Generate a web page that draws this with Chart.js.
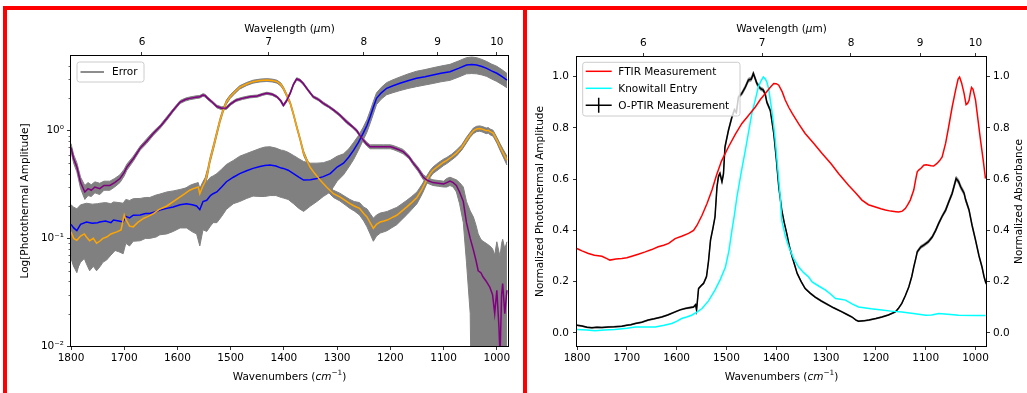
<!DOCTYPE html>
<html>
<head>
<meta charset="utf-8">
<script src="https://cdn.jsdelivr.net/npm/chart.js@4.4.0/dist/chart.umd.min.js"></script>
<style>
html, body { margin: 0; padding: 0; background: #fff; }
body { width: 1027px; height: 393px; position: relative; overflow: hidden; }
canvas { position: absolute; top: 0; }
#leftChart { left: 0; }
#rightChart { left: 523px; }
.redline { position: absolute; background: #ff0000; }
</style>
</head>
<body>
<canvas id="leftChart" width="523" height="393"></canvas>
<canvas id="rightChart" width="504" height="393"></canvas>
<div class="redline" style="left:3px;top:6px;width:1024px;height:4px"></div>
<div class="redline" style="left:3px;top:6px;width:4px;height:387px"></div>
<div class="redline" style="left:523px;top:6px;width:4px;height:387px"></div>
<script>
// ============================================================
// DATA
// ============================================================

// axes
const wavenumberTicks = [1800, 1700, 1600, 1500, 1400, 1300, 1200, 1100, 1000];
const wavelengthTicks = [6, 7, 8, 9, 10];
const logTicks = [0.01, 0.1, 1];
const logTickLabels = ['10\u207B\u00B2', '10\u207B\u00B9', '10\u2070'];
const normTicks = [0, 0.2, 0.4, 0.6, 0.8, 1.0];

// left panel : purple
const purpleWn = [
  1800, 1795, 1789, 1782, 1774, 1768, 1762, 1755, 1746, 1738,
  1727, 1718, 1708, 1700, 1695, 1683, 1670, 1658, 1645, 1632,
  1620, 1608, 1595, 1585, 1577, 1565, 1558, 1552, 1548, 1543,
  1535, 1526, 1517, 1508, 1500, 1490, 1478, 1464, 1450, 1440,
  1432, 1422, 1413, 1406, 1401, 1395, 1388, 1382, 1376, 1370,
  1364, 1355, 1345, 1335, 1326, 1316, 1307, 1295, 1282, 1272,
  1263, 1257, 1251, 1244, 1238, 1225, 1213, 1200, 1195, 1185,
  1176, 1165, 1157, 1148, 1138, 1130, 1120, 1110, 1100, 1094,
  1088, 1082, 1076, 1070, 1063, 1057, 1050, 1044, 1039, 1035,
  1030, 1026, 1020, 1013, 1008, 1004, 1000, 996, 994, 991,
  989, 985, 981
];
const purpleAmp = [
  0.70, 0.55, 0.46, 0.33, 0.27, 0.29, 0.28, 0.30, 0.29, 0.31,
  0.31, 0.33, 0.36, 0.41, 0.46, 0.55, 0.69, 0.80, 0.95, 1.10,
  1.30, 1.55, 1.85, 1.95, 2.00, 2.05, 2.07, 2.15, 2.12, 2.00,
  1.85, 1.68, 1.62, 1.63, 1.78, 1.92, 2.00, 2.07, 2.10, 2.18,
  2.23, 2.18, 2.07, 1.90, 1.72, 1.90, 2.25, 2.70, 3.03, 2.95,
  2.76, 2.40, 2.07, 1.95, 1.80, 1.68, 1.56, 1.40, 1.21, 1.10,
  1.00, 0.90, 0.82, 0.75, 0.71, 0.71, 0.71, 0.71, 0.70, 0.67,
  0.64, 0.57, 0.50, 0.44, 0.37, 0.345, 0.33, 0.325, 0.32, 0.33,
  0.34, 0.33, 0.31, 0.27, 0.22, 0.14, 0.10, 0.078, 0.062, 0.05,
  0.048, 0.044, 0.04, 0.035, 0.03, 0.02, 0.033, 0.015, 0.008, 0.03,
  0.038, 0.02, 0.033
];
const purpleErr = [
  0.06, 0.05, 0.045, 0.04, 0.04, 0.04, 0.035, 0.035, 0.035, 0.03,
  0.03, 0.03, 0.03, 0.03, 0.03, 0.03, 0.03, 0.04, 0.04, 0.04,
  0.05, 0.05, 0.06, 0.06, 0.06, 0.06, 0.06, 0.06, 0.06, 0.06,
  0.05, 0.05, 0.05, 0.05, 0.05, 0.05, 0.05, 0.05, 0.05, 0.05,
  0.05, 0.05, 0.05, 0.05, 0.05, 0.05, 0.06, 0.07, 0.08, 0.08,
  0.07, 0.06, 0.05, 0.05, 0.05, 0.04, 0.04, 0.04, 0.04, 0.03,
  0.03, 0.03, 0.03, 0.03, 0.03, 0.03, 0.03, 0.03, 0.03, 0.03,
  0.03, 0.02, 0.02, 0.02, 0.02, 0.02, 0.02, 0.02, 0.02, 0.03,
  0.03, 0.03, 0.04, 0.06, 0.08, 0.08, 0.08, 0.08, 0.07, 0.06,
  0.05, 0.05, 0.05, 0.05, 0.05, 0.05, 0.06, 0.06, 0.06, 0.06,
  0.06, 0.06, 0.06
];

// left panel : orange
const orangeWn = [
  1800, 1795, 1789, 1782, 1775, 1771, 1765, 1758, 1752, 1745,
  1740, 1733, 1725, 1714, 1706, 1700, 1697, 1690, 1683, 1675,
  1664, 1655, 1645, 1635, 1620, 1608, 1595, 1586, 1577, 1570,
  1561, 1558, 1553, 1548, 1543, 1539, 1532, 1526, 1520, 1514,
  1508, 1501, 1492, 1483, 1470, 1458, 1445, 1432, 1422, 1413,
  1406, 1401, 1395, 1388, 1382, 1376, 1370, 1363, 1357, 1351,
  1342, 1332, 1320, 1307, 1295, 1285, 1276, 1268, 1258, 1250,
  1244, 1238, 1232, 1226, 1219, 1212, 1206, 1198, 1188, 1178,
  1169, 1160, 1150, 1140, 1132, 1125, 1120, 1110, 1100, 1094,
  1085, 1076, 1066, 1057, 1050, 1044, 1038, 1032, 1026, 1020,
  1016, 1013, 1007, 1000, 994, 988, 981
];
const orangeAmp = [
  0.115, 0.10, 0.096, 0.105, 0.11, 0.103, 0.095, 0.10, 0.09, 0.095,
  0.10, 0.103, 0.11, 0.115, 0.12, 0.165, 0.15, 0.13, 0.128, 0.14,
  0.153, 0.16, 0.17, 0.185, 0.20, 0.22, 0.243, 0.26, 0.28, 0.29,
  0.30, 0.26, 0.30, 0.336, 0.42, 0.53, 0.72, 0.95, 1.25, 1.56,
  1.85, 2.07, 2.30, 2.53, 2.72, 2.86, 2.93, 2.96, 2.93, 2.86,
  2.70, 2.48, 2.15, 1.80, 1.42, 1.09, 0.85, 0.62, 0.53, 0.46,
  0.40, 0.348, 0.30, 0.26, 0.243, 0.225, 0.21, 0.20, 0.19, 0.17,
  0.158, 0.14, 0.124, 0.135, 0.142, 0.145, 0.148, 0.155, 0.164, 0.18,
  0.196, 0.215, 0.24, 0.29, 0.348, 0.40, 0.43, 0.47, 0.51, 0.53,
  0.57, 0.62, 0.70, 0.82, 0.92, 1.00, 1.04, 1.05, 1.03, 1.00,
  1.01, 0.98, 0.95, 0.82, 0.71, 0.62, 0.53
];
const orangeErr = [
  0.045, 0.045, 0.045, 0.045, 0.045, 0.045, 0.045, 0.045, 0.04, 0.04,
  0.04, 0.04, 0.04, 0.035, 0.035, 0.035, 0.03, 0.03, 0.03, 0.03,
  0.03, 0.03, 0.03, 0.03, 0.03, 0.03, 0.03, 0.03, 0.03, 0.03,
  0.03, 0.03, 0.03, 0.03, 0.03, 0.03, 0.04, 0.05, 0.06, 0.07,
  0.08, 0.08, 0.08, 0.09, 0.09, 0.09, 0.09, 0.09, 0.09, 0.09,
  0.09, 0.08, 0.07, 0.06, 0.05, 0.04, 0.03, 0.03, 0.02, 0.02,
  0.02, 0.02, 0.02, 0.02, 0.02, 0.02, 0.02, 0.02, 0.025, 0.025,
  0.03, 0.03, 0.03, 0.03, 0.03, 0.03, 0.03, 0.03, 0.03, 0.03,
  0.03, 0.03, 0.03, 0.03, 0.03, 0.03, 0.03, 0.035, 0.035, 0.035,
  0.035, 0.04, 0.04, 0.05, 0.05, 0.06, 0.06, 0.06, 0.06, 0.06,
  0.06, 0.06, 0.06, 0.05, 0.05, 0.05, 0.05
];

// left panel : blue
const blueWn = [
  1800, 1795, 1789, 1782, 1771, 1760, 1750, 1746, 1735, 1725,
  1720, 1710, 1702, 1697, 1690, 1683, 1670, 1660, 1652, 1640,
  1633, 1620, 1608, 1595, 1583, 1572, 1564, 1558, 1552, 1545,
  1538, 1533, 1526, 1517, 1508, 1495, 1483, 1470, 1458, 1445,
  1436, 1426, 1415, 1405, 1401, 1392, 1382, 1372, 1363, 1350,
  1338, 1326, 1313, 1300, 1288, 1278, 1269, 1260, 1251, 1244,
  1238, 1232, 1226, 1217, 1207, 1195, 1182, 1167, 1151, 1135,
  1120, 1105, 1088, 1072, 1057, 1047, 1038, 1028, 1019, 1010,
  1000, 990, 981
];
const blueAmp = [
  0.135, 0.125, 0.118, 0.135, 0.142, 0.138, 0.14, 0.142, 0.145, 0.14,
  0.148, 0.145, 0.142, 0.16, 0.155, 0.164, 0.165, 0.17, 0.17, 0.178,
  0.183, 0.19, 0.196, 0.205, 0.21, 0.205, 0.20, 0.185, 0.22, 0.226,
  0.25, 0.26, 0.27, 0.30, 0.336, 0.37, 0.40, 0.425, 0.447, 0.465,
  0.475, 0.48, 0.47, 0.45, 0.447, 0.43, 0.40, 0.37, 0.348, 0.35,
  0.36, 0.375, 0.40, 0.46, 0.50, 0.57, 0.66, 0.78, 0.95, 1.12,
  1.35, 1.65, 2.00, 2.25, 2.48, 2.62, 2.76, 2.92, 3.07, 3.18,
  3.30, 3.42, 3.54, 3.80, 4.08, 4.12, 4.08, 3.95, 3.80, 3.60,
  3.42, 3.18, 2.96
];
const blueErr = [
  0.07, 0.07, 0.07, 0.07, 0.07, 0.07, 0.07, 0.07, 0.07, 0.07,
  0.07, 0.07, 0.07, 0.07, 0.07, 0.07, 0.07, 0.07, 0.07, 0.075,
  0.075, 0.08, 0.08, 0.08, 0.085, 0.09, 0.09, 0.10, 0.10, 0.11,
  0.12, 0.12, 0.13, 0.14, 0.15, 0.16, 0.18, 0.19, 0.20, 0.22,
  0.23, 0.23, 0.22, 0.21, 0.21, 0.20, 0.19, 0.18, 0.17, 0.15,
  0.14, 0.13, 0.13, 0.12, 0.11, 0.11, 0.12, 0.12, 0.13, 0.15,
  0.18, 0.22, 0.25, 0.28, 0.32, 0.36, 0.40, 0.45, 0.50, 0.52,
  0.55, 0.57, 0.60, 0.65, 0.70, 0.72, 0.70, 0.65, 0.60, 0.57,
  0.55, 0.50, 0.45
];

// right panel : FTIR
const ftirWn = [
  1800, 1790, 1777, 1765, 1750, 1740, 1734, 1722, 1710, 1700,
  1690, 1677, 1663, 1650, 1637, 1626, 1616, 1603, 1590, 1576,
  1566, 1559, 1549, 1539, 1529, 1520, 1510, 1496, 1482, 1469,
  1455, 1442, 1432, 1422, 1412, 1405, 1400, 1395, 1388, 1382,
  1375, 1368, 1355, 1342, 1325, 1308, 1290, 1275, 1255, 1240,
  1228, 1215, 1201, 1190, 1181, 1170, 1160, 1154, 1147, 1141,
  1136, 1131, 1124, 1120, 1117, 1114, 1109, 1104, 1099, 1094,
  1089, 1084, 1078, 1072, 1067, 1060, 1054, 1047, 1040, 1035,
  1032, 1028, 1023, 1019, 1016, 1013, 1010, 1008, 1005, 1000,
  995, 990, 985, 980
];
const ftirAbs = [
  0.329, 0.32, 0.31, 0.303, 0.299, 0.29, 0.284, 0.288, 0.29, 0.293,
  0.299, 0.307, 0.316, 0.325, 0.336, 0.342, 0.349, 0.368, 0.377, 0.388,
  0.40, 0.42, 0.459, 0.505, 0.557, 0.615, 0.67, 0.725, 0.775, 0.817,
  0.85, 0.881, 0.91, 0.934, 0.958, 0.973, 0.972, 0.966, 0.94, 0.908,
  0.88, 0.856, 0.815, 0.778, 0.74, 0.70, 0.66, 0.622, 0.576, 0.545,
  0.518, 0.50, 0.491, 0.484, 0.479, 0.475, 0.473, 0.472, 0.475, 0.485,
  0.50, 0.518, 0.557, 0.60, 0.628, 0.635, 0.643, 0.654, 0.656, 0.654,
  0.652, 0.651, 0.66, 0.672, 0.686, 0.74, 0.803, 0.88, 0.947, 0.99,
  0.998, 0.975, 0.934, 0.89, 0.895, 0.907, 0.94, 0.957, 0.95, 0.908,
  0.83, 0.752, 0.68, 0.602
];

// right panel : Knowitall
const knowitallWn = [
  1800, 1780, 1764, 1745, 1724, 1700, 1683, 1660, 1643, 1625,
  1610, 1600, 1590, 1580, 1570, 1560, 1549, 1536, 1523, 1512,
  1502, 1495, 1489, 1484, 1479, 1470, 1462, 1455, 1449, 1442,
  1436, 1430, 1426, 1422, 1419, 1415, 1412, 1407, 1402, 1397,
  1392, 1389, 1382, 1375, 1365, 1355, 1345, 1335, 1328, 1315,
  1301, 1290, 1281, 1271, 1261, 1248, 1235, 1210, 1188, 1170,
  1148, 1125, 1100, 1088, 1074, 1050, 1034, 1000, 980
];
const knowitallAbs = [
  0.013, 0.011, 0.008, 0.011, 0.013, 0.018, 0.023, 0.023, 0.023, 0.03,
  0.037, 0.045, 0.056, 0.062, 0.069, 0.08, 0.095, 0.125, 0.167, 0.21,
  0.257, 0.32, 0.40, 0.46, 0.53, 0.63, 0.713, 0.79, 0.856, 0.91,
  0.959, 0.985, 0.998, 0.99, 0.979, 0.95, 0.908, 0.84, 0.752, 0.64,
  0.53, 0.44, 0.38, 0.336, 0.29, 0.257, 0.235, 0.218, 0.199, 0.183,
  0.167, 0.15, 0.134, 0.131, 0.128, 0.113, 0.101, 0.094, 0.089, 0.085,
  0.082, 0.076, 0.069, 0.07, 0.076, 0.072, 0.069, 0.068, 0.068
];

// right panel : O-PTIR
const optirWn = [
  1800, 1790, 1780, 1770, 1760, 1750, 1737, 1725, 1710, 1700,
  1692, 1683, 1670, 1657, 1645, 1630, 1618, 1603, 1593, 1583,
  1575, 1566, 1562, 1560, 1556, 1550, 1546, 1540, 1536, 1532,
  1527, 1523, 1519, 1516, 1513, 1509, 1506, 1503, 1496, 1489,
  1484, 1480, 1476, 1469, 1462, 1456, 1450, 1446, 1442, 1439,
  1432, 1426, 1422, 1419, 1412, 1405, 1400, 1395, 1389, 1384,
  1379, 1374, 1368, 1358, 1350, 1342, 1332, 1322, 1310, 1301,
  1285, 1268, 1258, 1248, 1240, 1235, 1225, 1214, 1200, 1188,
  1175, 1161, 1155, 1148, 1141, 1134, 1128, 1124, 1120, 1117,
  1110, 1104, 1095, 1087, 1080, 1074, 1067, 1060, 1054, 1047,
  1042, 1039, 1034, 1030, 1023, 1020, 1013, 1007, 1000, 993,
  987, 983, 979
];
const optirAmp = [
  0.030, 0.027, 0.022, 0.020, 0.022, 0.021, 0.023, 0.024, 0.026, 0.030,
  0.032, 0.037, 0.042, 0.050, 0.055, 0.062, 0.070, 0.082, 0.090, 0.095,
  0.098, 0.101, 0.110, 0.089, 0.173, 0.186, 0.193, 0.220, 0.280, 0.362,
  0.410, 0.452, 0.570, 0.610, 0.622, 0.590, 0.620, 0.725, 0.790, 0.842,
  0.870, 0.860, 0.920, 0.934, 0.959, 0.986, 0.990, 1.012, 0.990, 0.973,
  0.953, 0.947, 0.930, 0.900, 0.868, 0.778, 0.680, 0.570, 0.479, 0.430,
  0.388, 0.340, 0.296, 0.232, 0.200, 0.173, 0.155, 0.140, 0.125, 0.115,
  0.098, 0.082, 0.072, 0.062, 0.050, 0.046, 0.047, 0.050, 0.056, 0.062,
  0.070, 0.082, 0.095, 0.115, 0.145, 0.179, 0.220, 0.257, 0.290, 0.316,
  0.335, 0.342, 0.355, 0.374, 0.400, 0.427, 0.455, 0.479, 0.510, 0.544,
  0.580, 0.602, 0.590, 0.570, 0.545, 0.520, 0.479, 0.420, 0.362, 0.300,
  0.257, 0.220, 0.193
];
const optirErr = [
  0.002, 0.002, 0.002, 0.002, 0.002, 0.002, 0.002, 0.002, 0.002, 0.002,
  0.002, 0.002, 0.002, 0.002, 0.002, 0.002, 0.002, 0.002, 0.002, 0.002,
  0.003, 0.003, 0.003, 0.003, 0.004, 0.004, 0.004, 0.005, 0.005, 0.006,
  0.006, 0.006, 0.007, 0.007, 0.007, 0.007, 0.007, 0.007, 0.007, 0.007,
  0.007, 0.007, 0.007, 0.007, 0.008, 0.008, 0.008, 0.008, 0.008, 0.008,
  0.007, 0.007, 0.007, 0.007, 0.006, 0.005, 0.005, 0.004, 0.004, 0.003,
  0.003, 0.003, 0.003, 0.003, 0.003, 0.003, 0.003, 0.003, 0.003, 0.003,
  0.002, 0.002, 0.002, 0.002, 0.002, 0.002, 0.002, 0.002, 0.002, 0.002,
  0.002, 0.002, 0.003, 0.003, 0.003, 0.003, 0.004, 0.004, 0.005, 0.006,
  0.006, 0.006, 0.006, 0.006, 0.006, 0.006, 0.006, 0.007, 0.007, 0.008,
  0.009, 0.009, 0.009, 0.009, 0.008, 0.008, 0.007, 0.006, 0.006, 0.005,
  0.005, 0.005, 0.005
];

// ============================================================
// STYLE
// ============================================================

const FONT = '"DejaVu Sans", sans-serif';
const FS = 10.5;
const GRAY = '#808080';
const X_MIN = 979;
const X_MAX = 1800;

Chart.defaults.font.family = FONT;
Chart.defaults.font.size = FS;
Chart.defaults.color = '#000';

const pts = (xs, ys) => xs.map((x, i) => ({ x, y: ys[i] }));
const band = (xs, ys, es, sign, floor) =>
    xs.map((x, i) => ({ x, y: Math.max(ys[i] + sign * es[i], floor) }));

// texte avec italique / exposant (mathtext)
function drawRich(ctx, segs, cx, cy, angle) {
    ctx.save();
    ctx.translate(cx, cy);
    ctx.rotate(angle || 0);
    let total = 0;
    const parts = segs.map(s => {
        const size = s.sup ? FS * 0.7 : FS;
        const font = `${s.italic ? 'italic ' : ''}${size}px ${FONT}`;
        ctx.font = font;
        const w = ctx.measureText(s.text).width;
        total += w;
        return { s, font, w };
    });
    let x = -total / 2;
    ctx.textBaseline = 'middle';
    ctx.textAlign = 'left';
    ctx.fillStyle = '#000';
    parts.forEach(p => {
        ctx.font = p.font;
        ctx.fillText(p.s.text, x, p.s.sup ? -FS * 0.38 : 0);
        x += p.w;
    });
    ctx.restore();
}

const xTitle = [{ text: 'Wavenumbers (' }, { text: 'cm', italic: true }, { text: '\u22121', sup: true }, { text: ')' }];
const topTitle = [{ text: 'Wavelength (' }, { text: '\u03BC', italic: true }, { text: 'm)' }];

function roundBox(ctx, x, y, w, h, r) {
    ctx.beginPath();
    ctx.moveTo(x + r, y);
    ctx.arcTo(x + w, y, x + w, y + h, r);
    ctx.arcTo(x + w, y + h, x, y + h, r);
    ctx.arcTo(x, y + h, x, y, r);
    ctx.arcTo(x, y, x + w, y, r);
    ctx.closePath();
    ctx.fillStyle = 'rgba(255,255,255,0.8)';
    ctx.fill();
    ctx.strokeStyle = '#cccccc';
    ctx.lineWidth = 1;
    ctx.stroke();
}

function frame(ctx, a) {
    ctx.strokeStyle = '#000';
    ctx.lineWidth = 1;
    ctx.strokeRect(Math.round(a.left) - 0.5, Math.round(a.top) - 0.5,
        Math.round(a.right - a.left) + 1, Math.round(a.bottom - a.top) + 1);
}

const tickGrid = { drawOnChartArea: false, tickLength: 4, tickColor: '#000', tickWidth: 0.8 };

function xAxis(position, height, tickVals, labelFn, pad) {
    return {
        type: 'linear', position, min: X_MIN, max: X_MAX, reverse: true,
        afterBuildTicks: s => { s.ticks = tickVals.map(v => ({ value: v })); },
        afterFit: s => { s.height = height; },
        grid: tickGrid,
        border: { display: false },
        ticks: { autoSkip: false, maxRotation: 0, padding: pad, callback: labelFn }
    };
}

// ============================================================
// GRAPHIQUE GAUCHE (log)
// ============================================================

const leftDecor = {
    id: 'leftDecor',
    afterDraw(chart) {
        const ctx = chart.ctx, a = chart.chartArea, ys = chart.scales.y;
        ctx.save();
        // petites graduations
        ctx.strokeStyle = '#000';
        ctx.lineWidth = 0.6;
        logTicks.forEach(d => {
            for (let k = 2; k < 10; k++) {
                const v = k * d;
                if (v > ys.max) break;
                const py = Math.round(ys.getPixelForValue(v)) + 0.5;
                ctx.beginPath();
                ctx.moveTo(a.left - 2.5, py);
                ctx.lineTo(a.left, py);
                ctx.stroke();
            }
        });
        frame(ctx, a);

        const cx = (a.left + a.right) / 2;
        drawRich(ctx, xTitle, cx, 377);
        drawRich(ctx, topTitle, cx, 29);
        drawRich(ctx, [{ text: 'Log[Photothermal Amplitude]' }], 25, (a.top + a.bottom) / 2, -Math.PI / 2);

        // légende
        roundBox(ctx, 77, 62, 67, 20, 2.5);
        ctx.strokeStyle = GRAY;
        ctx.lineWidth = 1.8;
        ctx.beginPath();
        ctx.moveTo(80.5, 72);
        ctx.lineTo(104, 72);
        ctx.stroke();
        ctx.fillStyle = '#000';
        ctx.font = `${FS}px ${FONT}`;
        ctx.textBaseline = 'middle';
        ctx.fillText('Error', 112, 72.5);
        ctx.restore();
    }
};

const bandStyle = { borderColor: GRAY, borderWidth: 1, backgroundColor: GRAY, pointRadius: 0, order: 10, clip: 0 };
const lineStyle = { pointRadius: 0, borderWidth: 1.5, fill: false, clip: 0 };

new Chart(document.getElementById('leftChart'), {
    type: 'line',
    data: {
        datasets: [
            { ...bandStyle, data: band(purpleWn, purpleAmp, purpleErr, 1, 1e-4), fill: '+1' },
            { ...bandStyle, data: band(purpleWn, purpleAmp, purpleErr, -1, 1e-4), fill: false },
            { ...bandStyle, data: band(orangeWn, orangeAmp, orangeErr, 1, 1e-4), fill: '+1' },
            { ...bandStyle, data: band(orangeWn, orangeAmp, orangeErr, -1, 1e-4), fill: false },
            { ...bandStyle, data: band(blueWn, blueAmp, blueErr, 1, 1e-4), fill: '+1' },
            { ...bandStyle, data: band(blueWn, blueAmp, blueErr, -1, 1e-4), fill: false },
            { ...lineStyle, data: pts(blueWn, blueAmp), borderColor: '#0000ff', order: 3 },
            { ...lineStyle, data: pts(orangeWn, orangeAmp), borderColor: '#ffa500', order: 2 },
            { ...lineStyle, data: pts(purpleWn, purpleAmp), borderColor: '#800080', order: 1 }
        ]
    },
    options: {
        responsive: false,
        animation: false,
        devicePixelRatio: 1,
        events: [],
        layout: { padding: { left: 0, right: 15, top: 0, bottom: 0 } },
        plugins: { legend: { display: false }, tooltip: { enabled: false } },
        scales: {
            x: xAxis('bottom', 47, wavenumberTicks, v => String(v), 2),
            xTop: xAxis('top', 56, wavelengthTicks.map(l => 10000 / l), (v, i) => String(wavelengthTicks[i]), 3),
            y: {
                type: 'logarithmic', position: 'left', min: 0.01, max: 4.95,
                afterBuildTicks: s => { s.ticks = logTicks.map(v => ({ value: v })); },
                afterFit: s => { s.width = 71; },
                grid: tickGrid,
                border: { display: false },
                ticks: { autoSkip: false, padding: 3, callback: (v, i) => logTickLabels[i] }
            }
        }
    },
    plugins: [leftDecor]
});

// ============================================================
// GRAPHIQUE DROIT (normalisé)
// ============================================================

const rightDecor = {
    id: 'rightDecor',
    afterDraw(chart) {
        const ctx = chart.ctx, a = chart.chartArea;
        ctx.save();
        frame(ctx, a);

        const cx = (a.left + a.right) / 2;
        const cy = (a.top + a.bottom) / 2;
        drawRich(ctx, xTitle, cx, 377);
        drawRich(ctx, topTitle, cx, 29);
        drawRich(ctx, [{ text: 'Normalized Photothermal Amplitude' }], 17, cy, -Math.PI / 2);
        drawRich(ctx, [{ text: 'Normalized Absorbance' }], 496, cy, -Math.PI / 2);

        // légende
        roundBox(ctx, 59.7, 62.3, 157.3, 53.7, 2.5);
        const entries = [
            { label: 'FTIR Measurement', color: '#ff0000', y: 71.3 },
            { label: 'Knowitall Entry', color: '#00ffff', y: 88.3 },
            { label: 'O-PTIR Measurement', color: '#000000', y: 105.3, err: true }
        ];
        ctx.font = `${FS}px ${FONT}`;
        ctx.textBaseline = 'middle';
        entries.forEach(e => {
            ctx.strokeStyle = e.color;
            ctx.lineWidth = 1.5;
            ctx.beginPath();
            ctx.moveTo(62.7, e.y);
            ctx.lineTo(88.7, e.y);
            if (e.err) {
                ctx.moveTo(75.7, e.y - 7.5);
                ctx.lineTo(75.7, e.y + 7.5);
            }
            ctx.stroke();
            ctx.fillStyle = '#000';
            ctx.fillText(e.label, 95.3, e.y + 0.5);
        });
        ctx.restore();
    }
};

const normAxis = (position, pad) => ({
    type: 'linear', position, min: -0.051, max: 1.076,
    afterBuildTicks: s => { s.ticks = normTicks.map(v => ({ value: v })); },
    afterFit: s => { s.width = position === 'left' ? 54 : 41; },
    grid: tickGrid,
    border: { display: false },
    ticks: { autoSkip: false, padding: pad, callback: v => v.toFixed(1) }
});

const optirBand = { ...bandStyle, borderColor: '#888', backgroundColor: '#888', borderWidth: 0.6 };

new Chart(document.getElementById('rightChart'), {
    type: 'line',
    data: {
        datasets: [
            { ...optirBand, data: band(optirWn, optirAmp, optirErr, 1, -1), fill: '+1' },
            { ...optirBand, data: band(optirWn, optirAmp, optirErr, -1, -1), fill: false },
            { ...lineStyle, data: pts(optirWn, optirAmp), borderColor: '#000000', yAxisID: 'y', order: 3 },
            { ...lineStyle, data: pts(knowitallWn, knowitallAbs), borderColor: '#00ffff', yAxisID: 'y2', order: 2 },
            { ...lineStyle, data: pts(ftirWn, ftirAbs), borderColor: '#ff0000', yAxisID: 'y2', order: 1 }
        ]
    },
    options: {
        responsive: false,
        animation: false,
        devicePixelRatio: 1,
        events: [],
        layout: { padding: { left: 0, right: 0, top: 0, bottom: 0 } },
        plugins: { legend: { display: false }, tooltip: { enabled: false } },
        scales: {
            x: xAxis('bottom', 47, wavenumberTicks, v => String(v), 2),
            xTop: xAxis('top', 57, wavelengthTicks.map(l => 10000 / l), (v, i) => String(wavelengthTicks[i]), 3),
            y: normAxis('left', 4),
            y2: normAxis('right', 3)
        }
    },
    plugins: [rightDecor]
});
</script>
</body>
</html>
